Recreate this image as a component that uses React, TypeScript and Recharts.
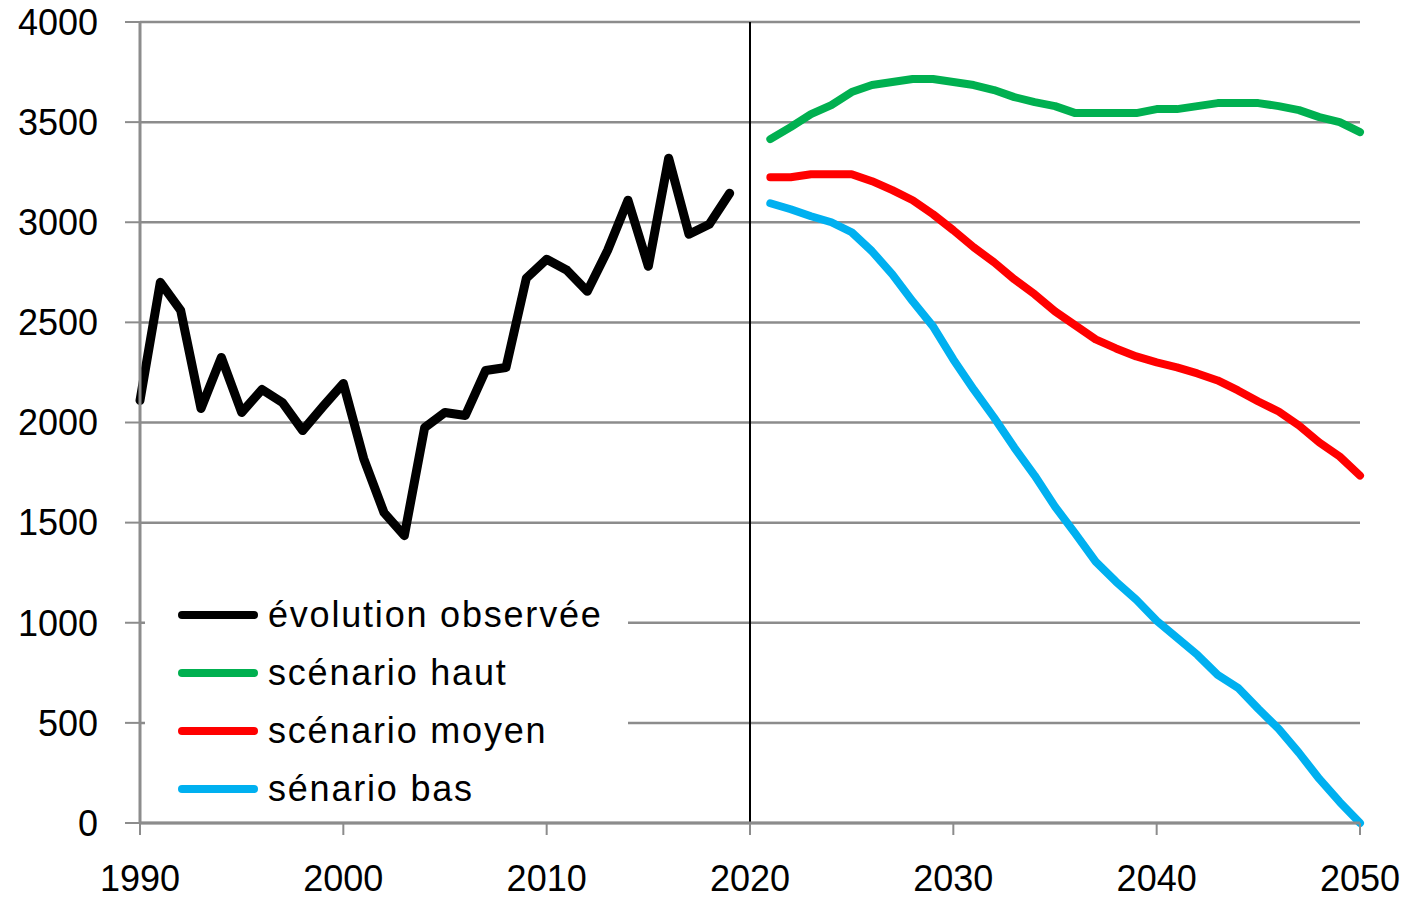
import { LineChart, Line, XAxis, YAxis, CartesianGrid, ReferenceLine, Legend } from 'recharts';

const observedYears = [1990, 1991, 1992, 1993, 1994, 1995, 1996, 1997, 1998, 1999, 2000, 2001, 2002, 2003, 2004, 2005, 2006, 2007, 2008, 2009, 2010, 2011, 2012, 2013, 2014, 2015, 2016, 2017, 2018, 2019];
const observed = [2110, 2700, 2560, 2070, 2325, 2050, 2165, 2100, 1960, 2080, 2195, 1820, 1550, 1435, 1975, 2050, 2035, 2260, 2275, 2720, 2815, 2760, 2655, 2860, 3110, 2780, 3320, 2940, 2990, 3145];

const scenarioYears = [2021, 2022, 2023, 2024, 2025, 2026, 2027, 2028, 2029, 2030, 2031, 2032, 2033, 2034, 2035, 2036, 2037, 2038, 2039, 2040, 2041, 2042, 2043, 2044, 2045, 2046, 2047, 2048, 2049, 2050];
const haut = [3415, 3475, 3540, 3585, 3650, 3685, 3700, 3715, 3715, 3700, 3685, 3660, 3625, 3600, 3580, 3545, 3545, 3545, 3545, 3565, 3565, 3580, 3595, 3595, 3595, 3580, 3560, 3525, 3500, 3450];
const moyen = [3225, 3225, 3240, 3240, 3240, 3205, 3160, 3110, 3040, 2960, 2875, 2800, 2715, 2640, 2555, 2485, 2415, 2370, 2330, 2300, 2275, 2245, 2210, 2160, 2105, 2055, 1985, 1900, 1830, 1735];
const bas = [3095, 3065, 3030, 3000, 2950, 2855, 2740, 2605, 2480, 2315, 2165, 2025, 1875, 1735, 1580, 1445, 1305, 1205, 1115, 1010, 925, 840, 740, 675, 570, 470, 350, 220, 105, 0];

const xTicks = [1990, 2000, 2010, 2020, 2030, 2040, 2050];
const yTicks = [0, 500, 1000, 1500, 2000, 2500, 3000, 3500, 4000];
const seriesOrder = ['observed', 'haut', 'moyen', 'bas'];

const data = [
  ...observedYears.map((year, i) => ({ year, observed: observed[i] })),
  ...scenarioYears.map((year, i) => ({ year, haut: haut[i], moyen: moyen[i], bas: bas[i] })),
];

const font = '"Liberation Sans", Arial, sans-serif';
const grid = '#8c8c8c';

function LegendBox({ payload }: any) {
  // recharts sorts legend items by name, put them back in series order
  const items = [...(payload || [])].sort(
    (a: any, b: any) => seriesOrder.indexOf(a.dataKey) - seriesOrder.indexOf(b.dataKey)
  );
  return (
    <div style={{ background: '#fff', width: 483, fontFamily: font }}>
      {items.map((p: any) => (
        <div key={p.value} style={{ height: 58, display: 'flex', alignItems: 'center' }}>
          <svg width={123} height={58}>
            <line x1={37} y1={29} x2={109} y2={29} stroke={p.color} strokeWidth={8} strokeLinecap="round" />
          </svg>
          <span style={{ fontSize: 36, color: '#000', letterSpacing: 1.8 }}>{p.value}</span>
        </div>
      ))}
    </div>
  );
}

export default function App() {
  return (
    <div style={{ position: 'absolute', left: 0, top: 0, background: '#fff' }}>
      <LineChart width={1410} height={898} data={data} margin={{ top: 22, right: 50, bottom: 0, left: 0 }}>
        <CartesianGrid horizontal vertical={false} stroke={grid} strokeWidth={2.5} />
        <XAxis
          dataKey="year"
          type="number"
          domain={[1990, 2050]}
          ticks={xTicks}
          height={75}
          tickSize={12}
          tickMargin={30}
          axisLine={{ stroke: grid, strokeWidth: 3 }}
          tickLine={{ stroke: grid, strokeWidth: 2 }}
          tick={{ fill: '#000', fontSize: 36, fontFamily: font }}
        />
        <YAxis
          domain={[0, 4000]}
          ticks={yTicks}
          width={140}
          tickSize={15}
          tickMargin={27}
          axisLine={{ stroke: grid, strokeWidth: 3 }}
          tickLine={{ stroke: grid, strokeWidth: 2 }}
          tick={{ fill: '#000', fontSize: 36, fontFamily: font }}
        />
        <ReferenceLine x={2020} stroke="#000" strokeWidth={2} />
        <Line dataKey="observed" name="évolution observée" stroke="#000000" strokeWidth={9} dot={false} strokeLinejoin="round" strokeLinecap="round" isAnimationActive={false} />
        <Line dataKey="haut" name="scénario haut" stroke="#00b050" strokeWidth={8} dot={false} strokeLinejoin="round" strokeLinecap="round" isAnimationActive={false} />
        <Line dataKey="moyen" name="scénario moyen" stroke="#ff0000" strokeWidth={8} dot={false} strokeLinejoin="round" strokeLinecap="round" isAnimationActive={false} />
        <Line dataKey="bas" name="sénario bas" stroke="#00b0f0" strokeWidth={8} dot={false} strokeLinejoin="round" strokeLinecap="round" isAnimationActive={false} />
        <Legend
          layout="vertical"
          align="center"
          verticalAlign="middle"
          content={<LegendBox />}
          wrapperStyle={{ left: 145, top: 586, width: 483 }}
        />
      </LineChart>
    </div>
  );
}
